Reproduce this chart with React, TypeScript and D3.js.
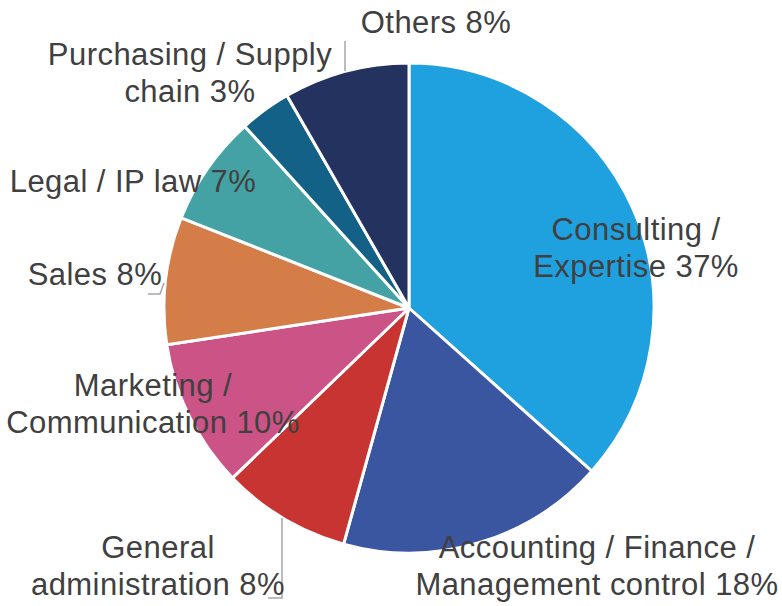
import React, { useEffect, useRef } from 'react';
import * as d3 from 'd3';

const categories = [
  'Consulting / Expertise',
  'Accounting / Finance / Management control',
  'General administration',
  'Marketing / Communication',
  'Sales',
  'Legal / IP law',
  'Purchasing / Supply chain',
  'Others',
];
const shares = [36.6, 17.7, 8.5, 9.8, 8.4, 7.3, 3.4, 8.3];
const pctLabels = ['37%', '18%', '8%', '10%', '8%', '7%', '3%', '8%'];
const colors = ['#1fa1e0', '#3b56a0', '#c83431', '#cc5385', '#d57d48', '#45a2a4', '#136186', '#23325e'];

// label layout: line breaks and centre/baseline of first line
const labelLines: Record<string, string[]> = {
  'Consulting / Expertise': ['Consulting /', 'Expertise 37%'],
  'Accounting / Finance / Management control': ['Accounting / Finance /', 'Management control 18%'],
  'General administration': ['General', 'administration 8%'],
  'Marketing / Communication': ['Marketing /', 'Communication 10%'],
  'Sales': ['Sales 8%'],
  'Legal / IP law': ['Legal / IP law 7%'],
  'Purchasing / Supply chain': ['Purchasing / Supply', 'chain 3%'],
  'Others': ['Others 8%'],
};
const labelPos: Record<string, [number, number]> = {
  'Consulting / Expertise': [636, 240],
  'Accounting / Finance / Management control': [597, 558],
  'General administration': [158, 558],
  'Marketing / Communication': [153, 396],
  'Sales': [95, 285],
  'Legal / IP law': [133, 192],
  'Purchasing / Supply chain': [190, 65],
  'Others': [436, 33],
};
const leaders: [number, number][][] = [
  [[345, 41], [345, 71]],
  [[148, 294], [160, 294], [164, 283]],
  [[268, 598], [282, 598], [282, 518]],
];

export default function App() {
  const svgRef = useRef<SVGSVGElement>(null);

  useEffect(() => {
    const width = 782;
    const height = 606;
    const cx = 409;
    const cy = 308;
    const radius = 245;

    const svg = d3.select(svgRef.current);
    svg.selectAll('*').remove();
    svg.attr('width', width).attr('height', height);

    const data = categories.map((c, i) => ({ name: c, value: shares[i], color: colors[i], pct: pctLabels[i] }));

    const pie = d3.pie<any>().sort(null).value(d => d.value);
    const arc = d3.arc<any>().innerRadius(0).outerRadius(radius);

    const g = svg.append('g').attr('transform', `translate(${cx},${cy})`);
    g.selectAll('path')
      .data(pie(data))
      .join('path')
      .attr('d', arc)
      .attr('fill', d => d.data.color)
      .attr('stroke', '#fff')
      .attr('stroke-width', 3)
      .attr('stroke-linejoin', 'round');

    const line = d3.line();
    leaders.forEach(pts => {
      svg.append('path')
        .attr('d', line(pts))
        .attr('fill', 'none')
        .attr('stroke', '#a6a6a6')
        .attr('stroke-width', 1.5);
    });

    data.forEach(d => {
      const [x, y] = labelPos[d.name];
      const t = svg.append('text')
        .attr('x', x)
        .attr('y', y)
        .attr('text-anchor', 'middle')
        .attr('fill', '#404040')
        .style('font-family', '"Liberation Sans", Arial, sans-serif')
        .style('font-size', '31px')
        .style('letter-spacing', '0.45px');
      labelLines[d.name].forEach((ln, i) => {
        t.append('tspan').attr('x', x).attr('dy', i === 0 ? 0 : 36.5).text(ln);
      });
    });
  }, []);

  return (
    <div style={{ position: 'absolute', left: 0, top: 0, width: 782, height: 606, background: '#fff' }}>
      <svg ref={svgRef} style={{ display: 'block' }}></svg>
    </div>
  );
}
